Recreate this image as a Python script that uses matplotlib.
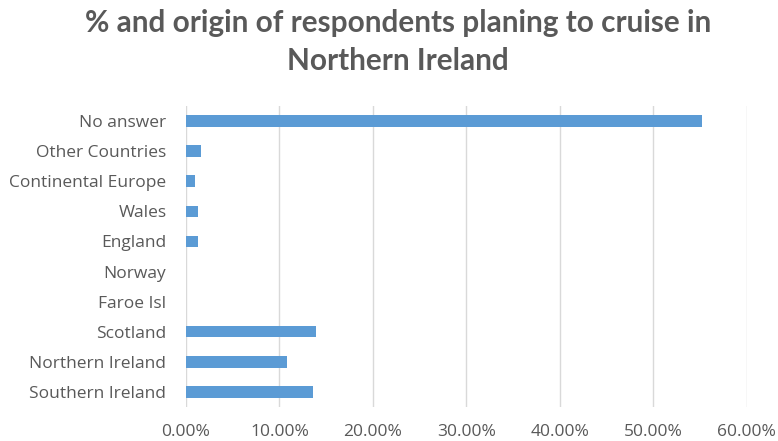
import matplotlib
matplotlib.use("Agg")
import matplotlib.pyplot as plt
from matplotlib.ticker import FuncFormatter

plt.rcParams['font.family'] = ['Open Sans', 'DejaVu Sans']

categories = ["Southern Ireland", "Northern Ireland", "Scotland", "Faroe Isl", "Norway",
              "England", "Wales", "Continental Europe", "Other Countries", "No answer"]
values = [13.6, 10.8, 13.9, 0.0, 0.0, 1.25, 1.25, 1.0, 1.6, 55.2]
x_ticks = [0, 10, 20, 30, 40, 50, 60]
title_lines = ["% and origin of respondents planing to cruise in", "Northern Ireland"]

text_color = "#595959"
bar_color = "#5B9BD5"
grid_color = "#D9D9D9"

fig = plt.figure(figsize=(7.78, 4.41), dpi=100)
ax = fig.add_axes([0.239, 0.077, 0.721, 0.683])

ypos = list(range(len(categories)))
ax.barh(ypos, values, height=0.38, color=bar_color, zorder=3)

ax.set_xlim(0, 60)
ax.set_ylim(-0.5, len(categories) - 0.5)
ax.set_xticks(x_ticks)
ax.xaxis.set_major_formatter(FuncFormatter(lambda v, p: f"{v:.2f}%"))
ax.set_yticks(ypos)
ax.set_yticklabels(categories)

ax.grid(axis="x", color=grid_color, linewidth=1, zorder=0)
for s in ax.spines.values():
    s.set_visible(False)
ax.tick_params(axis="both", length=0, colors=text_color, labelsize=12.5)
ax.tick_params(axis="x", pad=12)
ax.tick_params(axis="y", pad=14)

for line, ypx in zip(title_lines, [23, 61]):
    fig.text(398 / 778, 1 - ypx / 441, line, ha="center", va="center", fontsize=21.4,
             fontweight="bold", color=text_color, family=["Lato", "DejaVu Sans"])

fig.savefig("out.png", dpi=100)
